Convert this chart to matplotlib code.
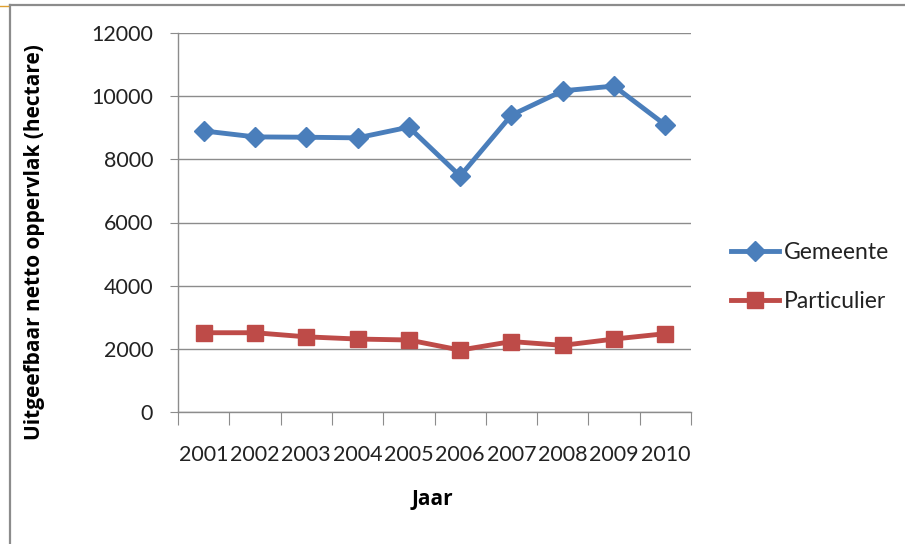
import matplotlib
matplotlib.use("Agg")
import matplotlib.pyplot as plt
from matplotlib.lines import Line2D
import numpy as np

# Uitgeefbaar netto oppervlak per jaar (hectare)
jaren = ["2001", "2002", "2003", "2004", "2005", "2006", "2007", "2008", "2009", "2010"]
gemeente = [8900, 8710, 8700, 8680, 9020, 7470, 9400, 10170, 10320, 9090]
particulier = [2510, 2510, 2380, 2310, 2280, 1960, 2230, 2110, 2310, 2480]
yticks = [0, 2000, 4000, 6000, 8000, 10000, 12000]

plt.rcParams['font.family'] = ['Lato', 'DejaVu Sans']

W, H = 905, 544
fig = plt.figure(figsize=(W / 100, H / 100), dpi=100)
ax = fig.add_axes([178 / W, 1 - 412 / H, (691 - 178) / W, (412 - 33) / H])

x = np.arange(len(jaren)) + 0.5
ax.plot(x, gemeente, color="#4A7EBB", lw=3.5, marker="D", ms=10.5,
        label="Gemeente", zorder=3)
ax.plot(x, particulier, color="#BE4B48", lw=3.5, marker="s", ms=11.5,
        label="Particulier", zorder=3)

ax.set_xlim(0, len(jaren))
ax.set_ylim(0, 12000)
ax.set_yticks(yticks)
ax.set_yticklabels([str(v) for v in yticks])
ax.yaxis.grid(True, color="#8C8C8C", lw=1)
ax.set_axisbelow(True)

# category ticks sit between the years, labels in the middle
ax.set_xticks(np.arange(len(jaren) + 1))
ax.set_xticklabels([])
ax.set_xticks(x, minor=True)
ax.set_xticklabels(jaren, minor=True, fontsize=15.5, color="#222222")
ax.tick_params(axis="x", which="major", length=9, color="#8C8C8C", direction="out")
ax.tick_params(axis="x", which="minor", length=0, pad=24)
ax.tick_params(axis="y", length=6, color="#8C8C8C", labelsize=15.5,
               labelcolor="#222222", pad=12)

for side in ["top", "right"]:
    ax.spines[side].set_visible(False)
for side in ["left", "bottom"]:
    ax.spines[side].set_color("#8C8C8C")
    ax.spines[side].set_linewidth(1)

fig.text(35 / W, 1 - 242 / H, "Uitgeefbaar netto oppervlak (hectare)",
         rotation=90, ha="center", va="center", fontsize=15,
         fontweight="bold", family="Open Sans")
fig.text(432 / W, 1 - 500 / H, "Jaar", ha="center", va="center",
         fontsize=15, fontweight="bold", family="Open Sans")

leg = ax.legend(loc="center left", bbox_to_anchor=(722 / W, 1 - 277 / H),
                bbox_transform=fig.transFigure, frameon=False, fontsize=16.5,
                handlelength=2.1, handletextpad=0.2, labelspacing=1.25,
                borderaxespad=0)
for t in leg.get_texts():
    t.set_color("#222222")

# outer chart border (top and left) plus the small orange mark
fig.add_artist(Line2D([10 / W, 1], [1 - 5 / H, 1 - 5 / H], color="#8C8C8C", lw=1.6))
fig.add_artist(Line2D([10 / W, 10 / W], [1 - 5 / H, 0], color="#8C8C8C", lw=1.6))
fig.add_artist(Line2D([0, 8 / W], [1 - 6 / H, 1 - 6 / H], color="#E0A030", lw=1))

fig.savefig("out.png", dpi=100)
